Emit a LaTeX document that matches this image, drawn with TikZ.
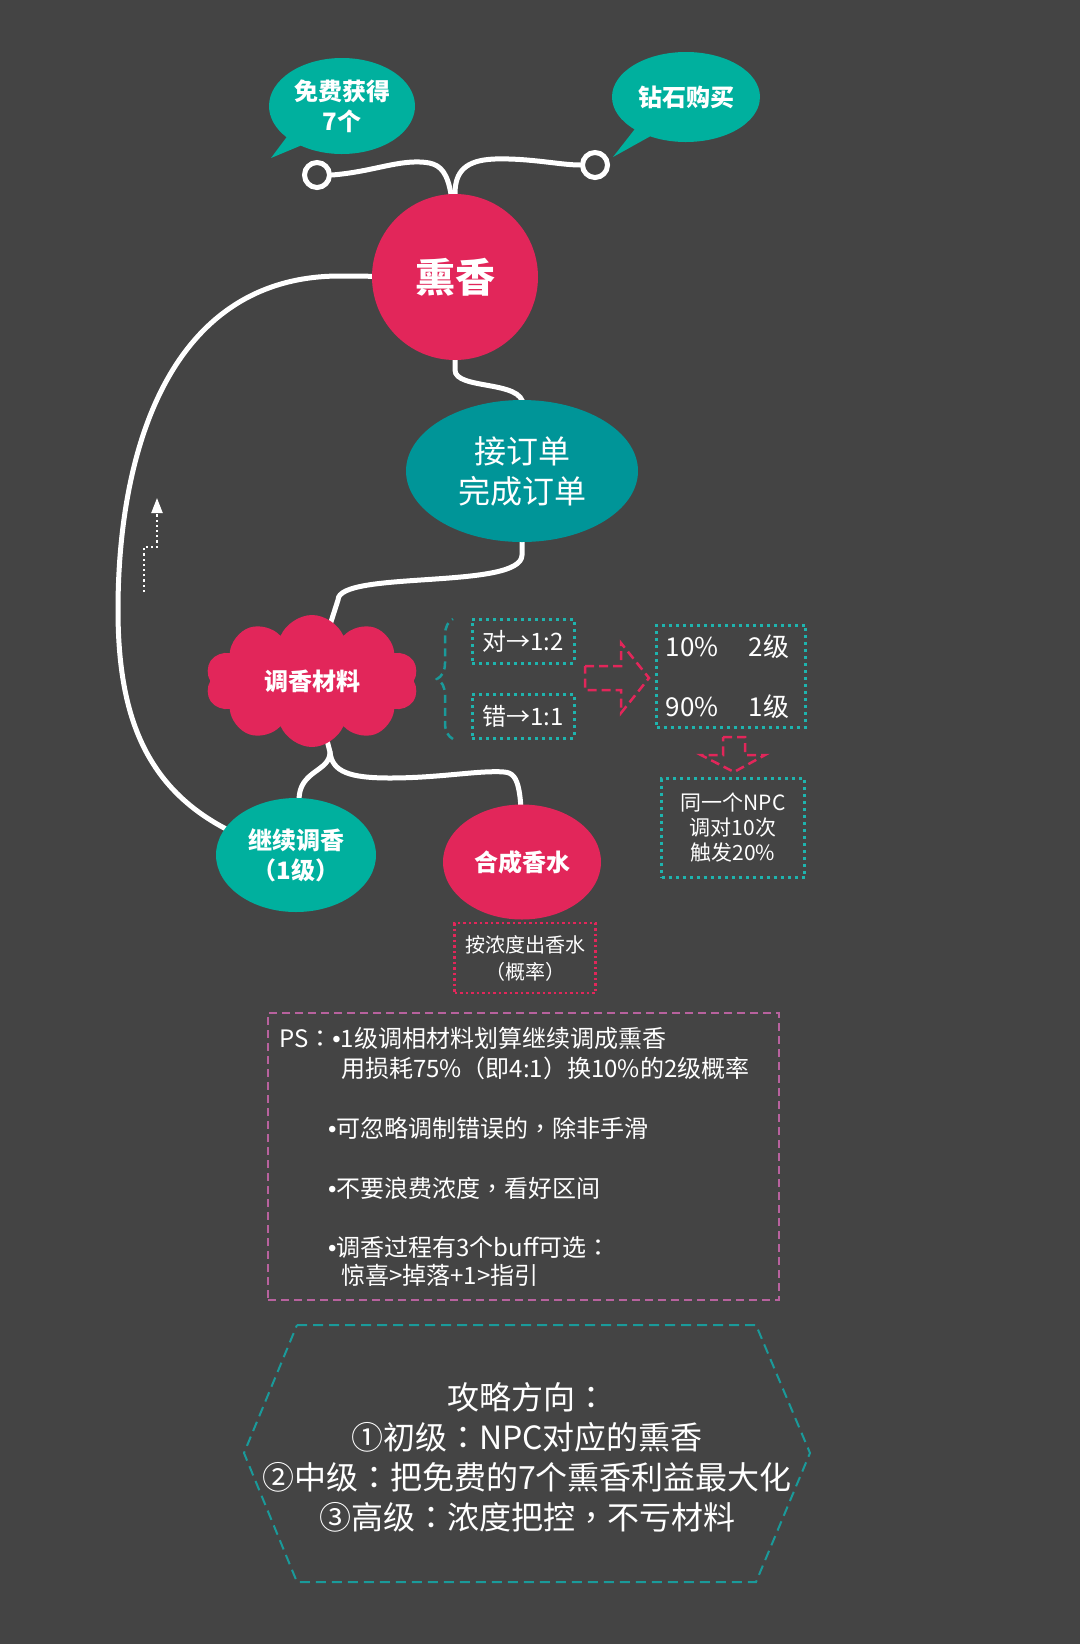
\documentclass[tikz,border=0pt]{standalone}
\usepackage{fontspec}
\setmainfont{Noto Sans CJK SC}
\newfontfamily\tcf{Noto Sans CJK TC}
\newfontfamily\libf{Liberation Sans}
\newcommand\cco{{\tcf ：}}
\newcommand\ccm{{\tcf ，}}
\newcommand\clp{{\tcf （}}
\newcommand\crp{{\tcf ）}}
\newcommand\bul{{\libf •}}
\usetikzlibrary{shapes.symbols,shapes.callouts,shapes.geometric,decorations.pathreplacing,arrows.meta}
\definecolor{bgc}{HTML}{444444}
\definecolor{crim}{HTML}{E2265A}
\definecolor{tealA}{HTML}{00B09E}
\definecolor{tealB}{HTML}{009598}
\definecolor{tealD}{HTML}{1EB4AE}
\definecolor{tealH}{HTML}{1A9A9A}
\definecolor{pinkD}{HTML}{B8629E}
\pgfdeclarelayer{bg}
\pgfdeclarelayer{back}
\pgfsetlayers{bg,back,main}
\begin{document}
\begin{tikzpicture}[x=1pt,y=-1pt,
  wire/.style={draw=white,line width=5pt,line cap=round},
  bfont/.style={font=\bfseries\fontsize{24}{30}\selectfont},
  lbl/.style={text=white,inner sep=0pt},
  dbox/.style={draw=tealD,line width=3pt,dash pattern=on 3pt off 4pt,text=white,inner sep=0pt},
  pbox/.style={draw=crim,line width=2.5pt,dash pattern=on 2.5pt off 3pt,text=white,inner sep=0pt},
  redarrow/.style={draw=crim,line width=2.5pt,dash pattern=on 9pt off 5pt,line join=miter},
  pstext/.style={text=white,anchor=base west,inner sep=0pt,font=\fontsize{24}{28}\selectfont}
]
\begin{pgfonlayer}{bg}
\fill[bgc] (0,0) rectangle (1080,1644);
\end{pgfonlayer}
\useasboundingbox (0,0) rectangle (1080,1644);

% top bubbles
\node[ellipse callout, fill=tealA, minimum width=146pt, minimum height=96pt,
  callout absolute pointer={(271,158)}, lbl, align=center, bfont] (b1) at (342,106) {免费获得\\7个};
\node[ellipse callout, fill=tealA, minimum width=148pt, minimum height=90pt,
  callout absolute pointer={(613,157)}, lbl, bfont] (b2) at (686,97) {钻石购买};
\node[circle, draw=white, line width=5pt, minimum size=25pt, inner sep=0pt] (c1) at (317,175) {};
\node[circle, draw=white, line width=5pt, minimum size=25pt, inner sep=0pt] (c2) at (595,165) {};

% main nodes
\node[circle, fill=crim, minimum size=166pt, lbl, font=\bfseries\fontsize{40}{44}\selectfont] (xx) at (455,277) {熏香};
\node[ellipse, fill=tealB, minimum width=232pt, minimum height=142pt, lbl, align=center,
  font=\fontsize{32}{40}\selectfont] (jd) at (522,471) {接订单\\完成订单};
\node[cloud, cloud puffs=10, cloud puff arc=135, aspect=1.6, fill=crim, minimum width=213pt,
  minimum height=132pt, lbl, bfont] (cl) at (312,681) {调香材料};
\node[ellipse, fill=tealA, minimum width=160pt, minimum height=114pt, lbl, align=center,
  bfont] (jx) at (296,855) {继续调香\\\clp 1级\crp};
\node[ellipse, fill=crim, minimum width=158pt, minimum height=115pt, lbl, bfont] (hc) at (522,862) {合成香水};

% small boxes
\node[dbox, minimum width=102pt, minimum height=44pt, font=\fontsize{24}{28}\selectfont] (dui) at (523,641) {对→1:2};
\node[dbox, minimum width=102pt, minimum height=44pt, font=\fontsize{24}{28}\selectfont] (cuo) at (523,716) {错→1:1};
\node[dbox, minimum width=149pt, minimum height=102pt] (pb) at (731,676) {};
\node[lbl, font=\fontsize{26}{30}\selectfont] (p1) at (692,647) {10\%};
\node[lbl, font=\fontsize{26}{30}\selectfont] (p2) at (769,647) {2级};
\node[lbl, font=\fontsize{26}{30}\selectfont] (p3) at (692,707) {90\%};
\node[lbl, font=\fontsize{26}{30}\selectfont] (p4) at (769,707) {1级};
\node[dbox, minimum width=143pt, minimum height=99pt, align=center, font=\fontsize{21}{25}\selectfont] (npc) at (733,828) {同一个NPC\\调对10次\\触发20\%};
\node[pbox, minimum width=141pt, minimum height=70pt, align=center, font=\fontsize{20}{27}\selectfont] (nd) at (525,958) {按浓度出香水\\\clp 概率\crp};

% brace
\coordinate (br1) at (453,739);
\coordinate (br2) at (453,619);
\draw[tealH, line width=2.5pt, dash pattern=on 8pt off 5pt, decorate, decoration={brace, amplitude=16pt}] (br1) -- (br2);

% red dashed arrows
\draw[redarrow] (585,666) -- (621,666) -- (621,643) -- (649,678) -- (621,713) -- (621,690) -- (585,690) -- cycle;
\draw[redarrow] (723,737) -- (745,737) -- (745,755) -- (765,755) -- (734,772) -- (701,755) -- (723,755) -- cycle;

% dotted arrow
\coordinate (da1) at (144,592);
\coordinate (da2) at (144,547);
\coordinate (da3) at (157,547);
\coordinate (da4) at (157,498);
\draw[white, line width=2.2pt, dash pattern=on 2.2pt off 3pt, -{Triangle[width=11pt,length=15pt]}] (da1) -- (da2) -- (da3) -- (da4);

% connectors
\begin{pgfonlayer}{back}
\draw[wire] (c1.east) .. controls (370,172) and (395,161) .. (420,162) .. controls (448,163) and (455,175) .. (xx.center);
\draw[wire] (xx.north) .. controls (455,172) and (465,160) .. (495,159) .. controls (530,158) and (560,165) .. (c2.west);
\draw[wire] (xx.center) -- (455,370) .. controls (455,390) and (523,380) .. (523,405) -- (jd.center);
\draw[wire] (jd.center) -- (522,555) .. controls (522,590) and (338,570) .. (338,600) -- (cl.center);
\draw[wire] (xx.center) -- (340,276) .. controls (170,276) and (118,450) .. (118,610) .. controls (118,740) and (160,820) .. (jx.center);
\coordinate (sp) at (330,752);
\draw[wire] (cl.center) -- (sp) .. controls (330,772) and (299,770) .. (299,800) -- (jx.center);
\draw[wire] (sp) .. controls (332,772) and (350,778) .. (390,778) .. controls (440,778) and (480,770) .. (504,772) .. controls (520,773) and (522,790) .. (hc.center);
\end{pgfonlayer}

% PS box
\node[draw=pinkD, line width=2pt, dash pattern=on 8pt off 5pt, minimum width=511pt, minimum height=287pt, inner sep=0pt] (ps) at (523.5,1156.5) {};
\node[pstext] (ps1) at (279,1047) {PS\cco\bul 1级调相材料划算继续调成熏香};
\node[pstext] (ps2) at (341,1077) {用损耗75\%\clp 即4:1\crp 换10\%的2级概率};
\node[pstext] (ps3) at (328,1137) {\bul 可忽略调制错误的\ccm 除非手滑};
\node[pstext] (ps4) at (328,1197) {\bul 不要浪费浓度\ccm 看好区间};
\node[pstext] (ps5) at (328,1256) {\bul 调香过程有3个buff可选\cco};
\node[pstext] (ps6) at (341,1284) {惊喜>掉落+1>指引};

% hexagon
\draw[tealH, line width=2pt, dash pattern=on 10pt off 6pt] (297,1325) -- (756,1325) -- (810,1453) -- (756,1582) -- (297,1582) -- (244,1453) -- cycle;
\node[lbl, align=center, font=\fontsize{32}{40}\selectfont] (hx) at (527,1457) {攻略方向\cco\\①初级\cco NPC对应的熏香\\②中级\cco 把免费的7个熏香利益最大化\\③高级\cco 浓度把控\ccm 不亏材料};
\end{tikzpicture}
\end{document}
